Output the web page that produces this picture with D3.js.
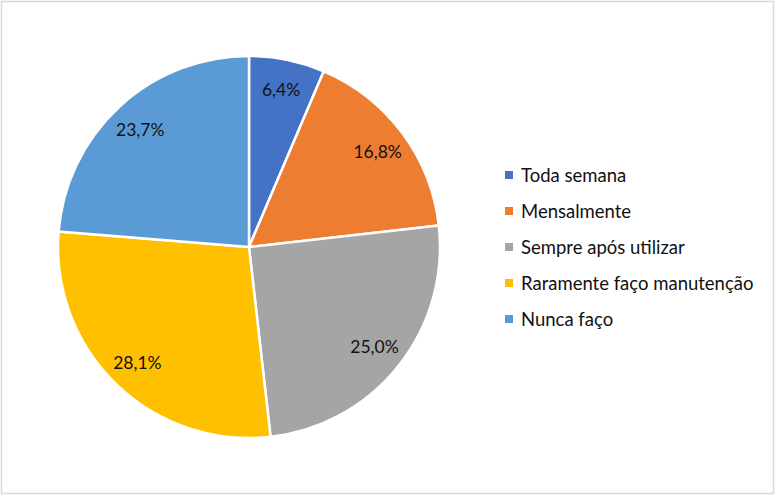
<!DOCTYPE html>
<html><head><meta charset="utf-8">
<script src="https://cdn.jsdelivr.net/npm/d3@7"></script>
<style>
html,body{margin:0;padding:0;background:#fff;}
svg{display:block;}
</style></head>
<body>
<svg id="chart" width="776" height="496"></svg>
<script>
const categories = ["Toda semana","Mensalmente","Sempre após utilizar","Raramente faço manutenção","Nunca faço"];
const values = [6.4, 16.8, 25.0, 28.1, 23.7];
const labels = ["6,4%","16,8%","25,0%","28,1%","23,7%"];
const colors = ["#4472C4","#ED7D31","#A5A5A5","#FFC000","#5B9BD5"];

const svg = d3.select("#chart");
const font = "Lato, 'Open Sans', sans-serif";

svg.append("rect").attr("x",1.5).attr("y",1.5).attr("width",772).attr("height",492)
  .attr("fill","#fff").attr("stroke","#d9d9d9").attr("stroke-width",1.5);

const cx = 249, cy = 247, R = 191;
const pie = d3.pie().sort(null).value(d=>d);
const arcs = pie(values);
const arc = d3.arc().innerRadius(0).outerRadius(R);
const labelArc = d3.arc().innerRadius(R*0.84).outerRadius(R*0.84);

const g = svg.append("g").attr("transform",`translate(${cx},${cy})`);
g.selectAll("path").data(arcs).enter().append("path")
  .attr("d",arc).attr("fill",(d,i)=>colors[i])
  .attr("stroke","#fff").attr("stroke-width",2.5).attr("stroke-linejoin","round");

g.selectAll("text").data(arcs).enter().append("text")
  .attr("transform",d=>{const c=labelArc.centroid(d);return `translate(${c[0]},${c[1]})`;})
  .attr("text-anchor","middle").attr("dominant-baseline","central")
  .attr("font-family",font).attr("font-size",17.5).attr("fill","#111")
  .text((d,i)=>labels[i]);

const leg = svg.append("g").attr("transform","translate(505,175)");
const rows = leg.selectAll("g").data(categories).enter().append("g")
  .attr("transform",(d,i)=>`translate(0,${i*36})`);
rows.append("rect").attr("x",0).attr("y",-4).attr("width",8).attr("height",8)
  .attr("fill",(d,i)=>colors[i]);
rows.append("text").attr("x",16).attr("y",0).attr("dominant-baseline","central")
  .attr("font-family",font).attr("font-size",18.5).attr("fill","#111")
  .text(d=>d);
</script>
</body></html>
